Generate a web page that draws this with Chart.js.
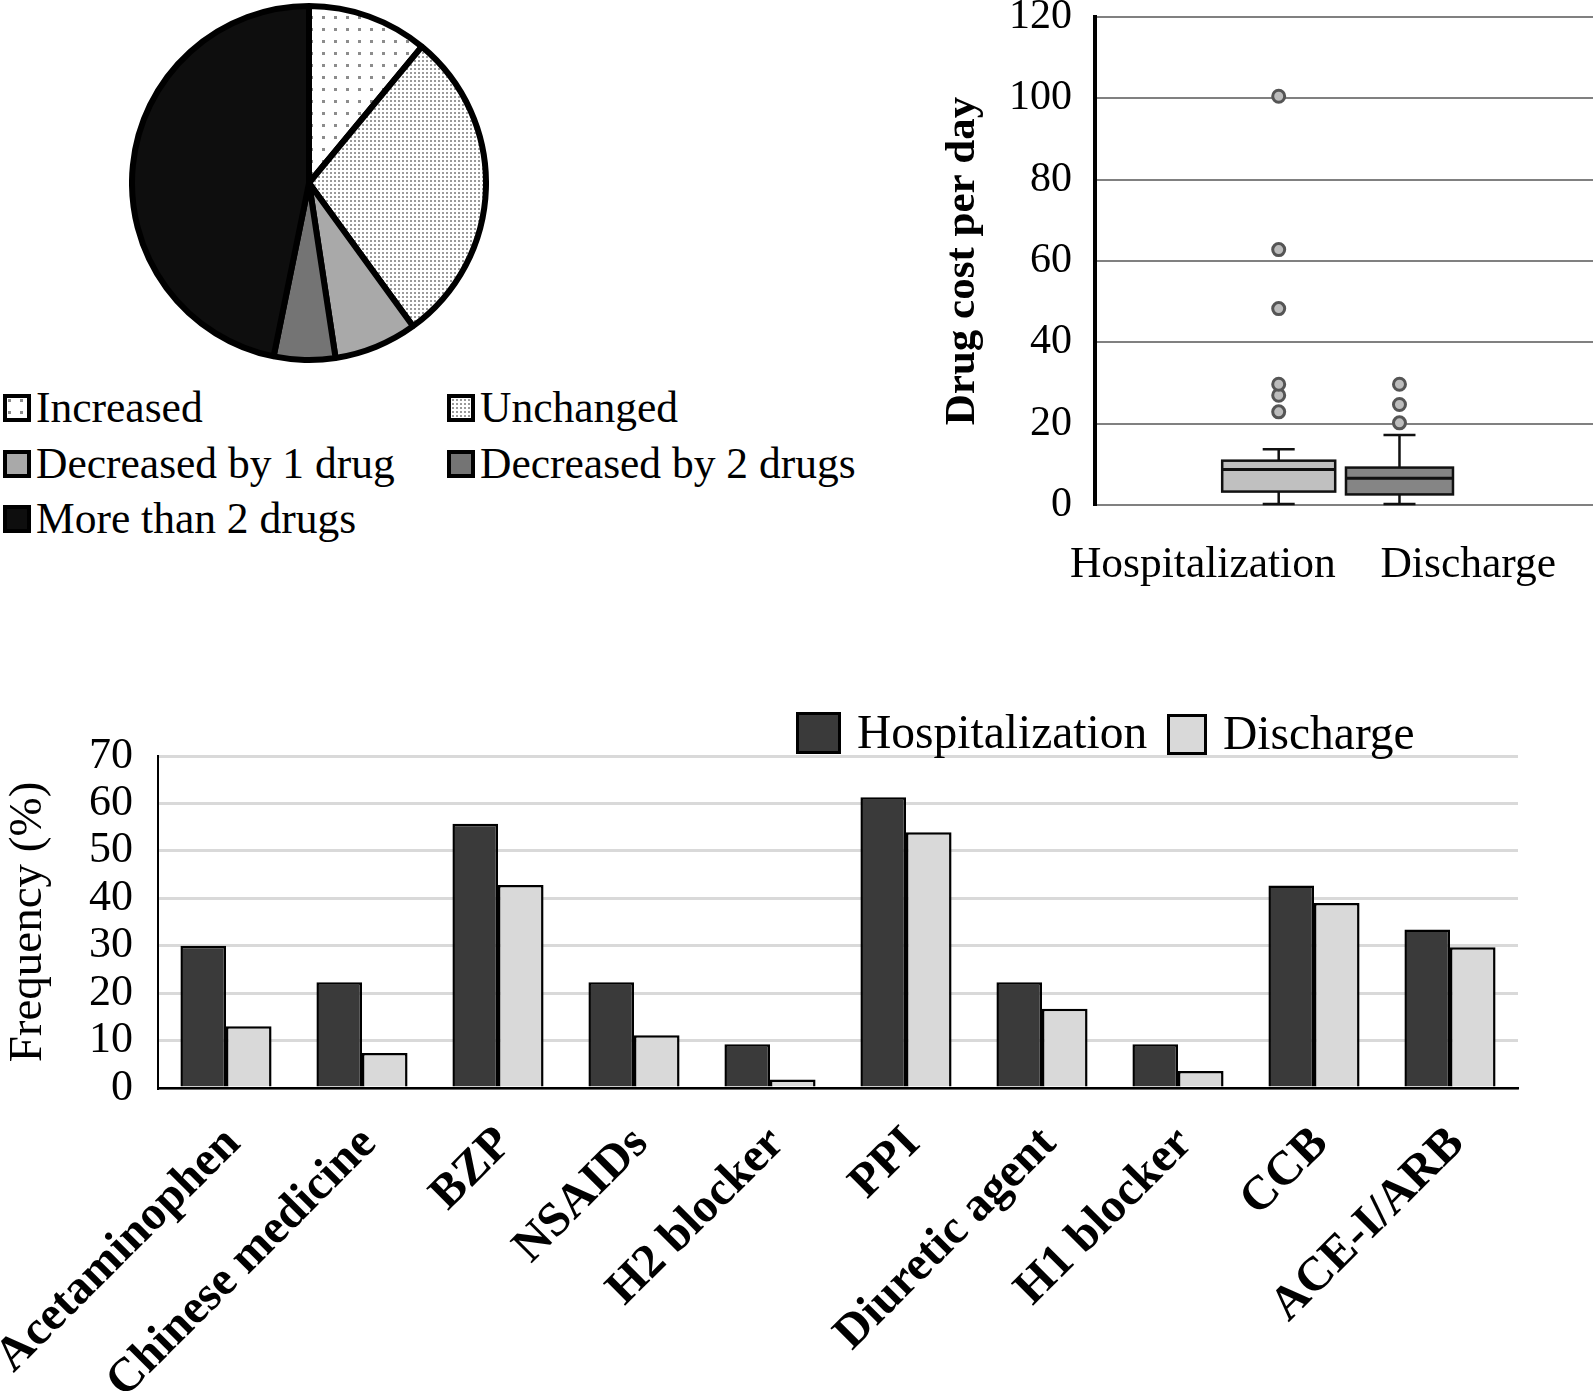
<!DOCTYPE html>
<html>
<head>
<meta charset="utf-8">
<script src="https://cdn.jsdelivr.net/npm/chart.js@4.4.0/dist/chart.umd.min.js"></script>
<style>
  body { margin: 0; width: 1594px; height: 1391px; background: #fff; position: relative; overflow: hidden;
         font-family: "Liberation Serif", "Times New Roman", serif; color: #000; }
  .pane { position: absolute; }
  .lg { position: absolute; display: flex; align-items: center; white-space: nowrap; line-height: 1; }
  .sw { box-sizing: border-box; border: 4px solid #000; flex: none; }
</style>
</head>
<body>
<div class="pane" style="left:129px; top:3px; width:360px; height:360px;"><canvas id="pieChart" width="360" height="360"></canvas></div>
<div class="pane" style="left:900px; top:0px; width:702px; height:600px;"><canvas id="boxChart" width="702" height="600"></canvas></div>
<div class="pane" style="left:0px; top:700px; width:1594px; height:691px;"><canvas id="barChart" width="1594" height="691"></canvas></div>
<div id="pieLegend"></div>
<div id="barLegend"></div>

<script>
// pie: change in number of drugs
const pieLabels = ['Increased', 'Unchanged', 'Decreased by 1 drug', 'Decreased by 2 drugs', 'More than 2 drugs'];
const pieValues = [11.0, 29.0, 7.6, 5.6, 46.8];

// box plot: drug cost per day
const boxLabels = ['Hospitalization', 'Discharge'];
const boxMin = [0.25, 0.25];
const boxQ1 = [3.3, 2.6];
const boxMedian = [8.7, 6.6];
const boxQ3 = [10.9, 9.2];
const boxMax = [13.7, 17.2];
const hospOutliers = [22.9, 27.0, 29.7, 48.3, 62.8, 100.5];
const dischOutliers = [20.2, 24.7, 29.7];
const costTicks = [0, 20, 40, 60, 80, 100, 120];

// bar chart: frequency of drug classes
const drugClasses = ['Acetaminophen', 'Chinese medicine', 'BZP', 'NSAIDs', 'H2 blocker', 'PPI',
                     'Diuretic agent', 'H1 blocker', 'CCB', 'ACE-I/ARB'];
const hospFreq = [30.0, 22.3, 55.7, 22.3, 9.2, 61.3, 22.3, 9.2, 42.7, 33.4];
const dischFreq = [13.0, 7.4, 42.8, 11.1, 1.8, 53.9, 16.7, 3.6, 39.0, 29.7];
const freqTicks = [0, 10, 20, 30, 40, 50, 60, 70];

Chart.defaults.font.family = '"Liberation Serif", "Times New Roman", serif';
Chart.defaults.color = '#000';
Chart.defaults.animation = false;
Chart.defaults.responsive = false;

// dotted fills like the original print
function dotCanvas(step, size, dot) {
    const c = document.createElement('canvas');
    c.width = step; c.height = step;
    const g = c.getContext('2d');
    g.fillStyle = '#fff';
    g.fillRect(0, 0, step, step);
    g.fillStyle = dot;
    g.fillRect(1, 1, size, size);
    return c;
}
const sparse = dotCanvas(12, 3, '#8c8c8c');
const dense = dotCanvas(4, 2, '#9a9a9a');
const ctxTmp = document.createElement('canvas').getContext('2d');
const pieFills = [
    ctxTmp.createPattern(sparse, 'repeat'),
    ctxTmp.createPattern(dense, 'repeat'),
    '#a9a9a9', '#747474', '#0e0e0e'
];
const pieSwatch = [
    'url(' + sparse.toDataURL() + ')',
    'url(' + dense.toDataURL() + ')',
    '#a9a9a9', '#747474', '#0e0e0e'
];

new Chart(document.getElementById('pieChart'), {
    type: 'pie',
    data: {
        labels: pieLabels,
        datasets: [{
            data: pieValues,
            backgroundColor: pieFills,
            borderColor: '#000',
            borderWidth: 6,
            hoverOffset: 0
        }]
    },
    options: {
        plugins: { legend: { display: false }, tooltip: { enabled: false } }
    }
});

// pie legend, two columns like the original
const pieLegend = document.getElementById('pieLegend');
const legPos = [[3, 408], [447, 408], [3, 464], [447, 464], [3, 519]];
pieLabels.forEach((lbl, i) => {
    const item = document.createElement('div');
    item.className = 'lg';
    item.style.left = legPos[i][0] + 'px';
    item.style.top = (legPos[i][1] - 22) + 'px';
    item.style.height = '44px';
    item.style.fontSize = '43.5px';
    const sw = document.createElement('div');
    sw.className = 'sw';
    sw.style.width = '28px';
    sw.style.height = '28px';
    sw.style.marginRight = '5px';
    sw.style.background = pieSwatch[i];
    const tx = document.createElement('span');
    tx.textContent = lbl;
    item.appendChild(sw);
    item.appendChild(tx);
    pieLegend.appendChild(item);
});

// box plot
const boxShift = [0.286, -0.259];   // boxes sit towards the middle of the axis
const boxFill = ['#c0c0c0', '#858585'];
const boxWidth = [113, 107];
const capPx = 32;

const boxPlugin = {
    id: 'boxes',
    beforeDatasetsDraw(chart) {
        const { ctx, scales: { x, y } } = chart;
        ctx.save();
        boxLabels.forEach((_, i) => {
            const cx = x.getPixelForValue(i + boxShift[i]);
            const w = boxWidth[i];
            const l = cx - w / 2;
            const yq1 = y.getPixelForValue(boxQ1[i]);
            const yq3 = y.getPixelForValue(boxQ3[i]);
            const ymed = y.getPixelForValue(boxMedian[i]);
            const ymin = y.getPixelForValue(boxMin[i]);
            const ymax = y.getPixelForValue(boxMax[i]);
            ctx.strokeStyle = '#111';
            ctx.lineWidth = 2.5;
            // whiskers
            ctx.beginPath();
            ctx.moveTo(cx, yq3); ctx.lineTo(cx, ymax);
            ctx.moveTo(cx - capPx / 2, ymax); ctx.lineTo(cx + capPx / 2, ymax);
            ctx.moveTo(cx, yq1); ctx.lineTo(cx, ymin);
            ctx.moveTo(cx - capPx / 2, ymin); ctx.lineTo(cx + capPx / 2, ymin);
            ctx.stroke();
            // box
            ctx.fillStyle = boxFill[i];
            ctx.fillRect(l, yq3, w, yq1 - yq3);
            ctx.strokeRect(l, yq3, w, yq1 - yq3);
            // median
            ctx.lineWidth = 3;
            ctx.beginPath();
            ctx.moveTo(l, ymed); ctx.lineTo(l + w, ymed);
            ctx.stroke();
        });
        ctx.restore();
    }
};

new Chart(document.getElementById('boxChart'), {
    type: 'scatter',
    data: {
        datasets: [{
            data: hospOutliers.map(v => ({ x: 0 + boxShift[0], y: v }))
                .concat(dischOutliers.map(v => ({ x: 1 + boxShift[1], y: v }))),
            pointRadius: 6,
            pointBorderWidth: 3,
            borderColor: '#555',
            backgroundColor: '#bcbcbc'
        }]
    },
    options: {
        layout: { padding: { left: 37, top: 17, right: 0, bottom: 0 } },
        plugins: { legend: { display: false }, tooltip: { enabled: false } },
        scales: {
            x: {
                type: 'linear', min: -0.406, max: 1.47,
                afterBuildTicks: s => { s.ticks = boxLabels.map((_, i) => ({ value: i })); },
                afterFit: s => { s.height = 95; s.paddingLeft = 0; s.paddingRight = 0; },
                grid: { display: false },
                border: { display: false },
                ticks: { autoSkip: false, maxRotation: 0, padding: 26, font: { size: 43.5 },
                         callback: v => boxLabels[v] }
            },
            y: {
                min: 0, max: 120,
                afterBuildTicks: s => { s.ticks = costTicks.map(v => ({ value: v })); },
                afterFit: s => { s.width = 158; s.paddingTop = 0; s.paddingBottom = 0; },
                grid: { color: '#808080', lineWidth: 2, drawTicks: false },
                border: { color: '#000', width: 4 },
                ticks: { autoSkip: false, padding: 23, font: { size: 42 } },
                title: { display: true, text: 'Drug cost per day', font: { size: 43, weight: 'bold' }, padding: 0 }
            }
        }
    },
    plugins: [boxPlugin]
});

// bar chart
new Chart(document.getElementById('barChart'), {
    type: 'bar',
    data: {
        labels: drugClasses,
        datasets: [{
            label: 'Hospitalization',
            data: hospFreq,
            backgroundColor: '#3a3a3a',
            borderColor: '#000',
            borderWidth: 2.5
        }, {
            label: 'Discharge',
            data: dischFreq,
            backgroundColor: '#d9d9d9',
            borderColor: '#000',
            borderWidth: 2.5
        }]
    },
    options: {
        categoryPercentage: 0.67,
        barPercentage: 1.0,
        layout: { padding: { left: 0, top: 56, right: 76, bottom: 0 } },
        plugins: { legend: { display: false }, tooltip: { enabled: false } },
        scales: {
            x: {
                afterFit: s => { s.height = 303; s.paddingLeft = 0; s.paddingRight = 0; },
                grid: { display: false },
                border: { color: '#000', width: 2.5 },
                ticks: { autoSkip: false, minRotation: 45, maxRotation: 45, padding: 20, labelOffset: 7,
                         font: { size: 48, weight: 'bold' } }
            },
            y: {
                min: 0, max: 70,
                afterBuildTicks: s => { s.ticks = freqTicks.map(v => ({ value: v })); },
                afterFit: s => { s.width = 158; s.paddingTop = 0; s.paddingBottom = 0; },
                grid: { color: '#d9d9d9', lineWidth: 3, drawTicks: false },
                border: { color: '#000', width: 2 },
                ticks: { autoSkip: false, padding: 25, font: { size: 44 } },
                title: { display: true, text: 'Frequency (%)', font: { size: 47 }, padding: 0 }
            }
        }
    }
});

// bar legend above the plot
const barLegend = document.getElementById('barLegend');
const barLeg = [
    { text: 'Hospitalization', fill: '#3a3a3a', x: 796, y: 733, w: 45, h: 42 },
    { text: 'Discharge', fill: '#d9d9d9', x: 1167, y: 734, w: 40, h: 41 }
];
barLeg.forEach(d => {
    const item = document.createElement('div');
    item.className = 'lg';
    item.style.left = d.x + 'px';
    item.style.top = (d.y - 25) + 'px';
    item.style.height = '50px';
    item.style.fontSize = '47.5px';
    const sw = document.createElement('div');
    sw.className = 'sw';
    sw.style.width = d.w + 'px';
    sw.style.height = d.h + 'px';
    sw.style.borderWidth = '3px';
    sw.style.marginRight = '16px';
    sw.style.background = d.fill;
    const tx = document.createElement('span');
    tx.textContent = d.text;
    item.appendChild(sw);
    item.appendChild(tx);
    barLegend.appendChild(item);
});
</script>
</body>
</html>
